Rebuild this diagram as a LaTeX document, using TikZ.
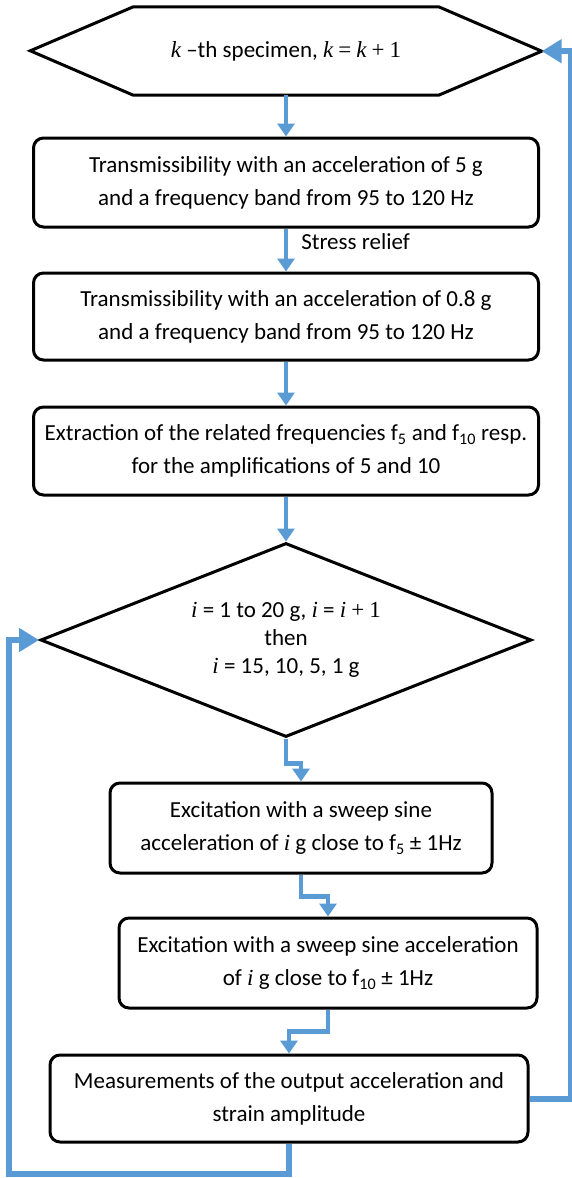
\documentclass[tikz,border=0pt]{standalone}
\usepackage{fontspec}
\setmainfont{Carlito}
\newfontfamily\mathserif{Liberation Serif}
\newcommand{\mv}[1]{{\mathserif\itshape #1}}
\newcommand{\mo}[1]{{\mathserif\hspace{0.22em}#1\hspace{0.22em}}}
\usetikzlibrary{shapes.geometric,arrows.meta}
\definecolor{flowblue}{RGB}{91,155,213}

\begin{document}
\begin{tikzpicture}[
		x=1pt, y=-1pt,
		font=\fontsize{23}{33}\selectfont,
		every node/.style={align=center, inner sep=0pt},
		box/.style={draw, line width=3pt, rounded corners=10pt},
		flow/.style={draw=flowblue, line width=4.5pt, -{Triangle[length=13pt,width=17pt]}},
		backflow/.style={draw=flowblue, line width=6pt, -{Triangle[length=20pt,width=23pt]}}
		]
		\useasboundingbox (0,0) rectangle (572,1178);
		\node (spec) [minimum width=305pt, minimum height=88pt] at (286,51) {\mv{k} –th specimen, \mv{k}\mo{=}\mv{k}\mo{+}{\mathserif 1}};
		\draw[line width=3pt] (spec.north west) -- ++(-103,44) -- (spec.south west) -- (spec.south east) -- ++(103,-44) coordinate (hexR) -- (spec.north east) -- cycle;
		\node (trans5) [box, minimum width=505pt, minimum height=89pt] at (286,182.5) {Transmissibility with an acceleration of 5 g\\and a frequency band from 95 to 120 Hz};
		\node (trans08) [box, minimum width=505pt, minimum height=87pt] at (286,316.5) {Transmissibility with an acceleration of 0.8 g\\and a frequency band from 95 to 120 Hz};
		\node (extract) [box, minimum width=505pt, minimum height=88pt] at (286,451) {Extraction of the related frequencies f\textsubscript{5} and f\textsubscript{10} resp.\\for the amplifications of 5 and 10};
		\node (accel) [draw, diamond, aspect=2.5, line width=3pt, minimum width=491pt, minimum height=194pt, font=\fontsize{23}{28}\selectfont] at (286,640) {\mv{i} = 1 to 20 g, \mv{i} = \mv{i}\mo{+}{\mathserif 1}\\then\\\mv{i} = 15, 10, 5, 1 g};
		\node (sweep5) [box, minimum width=382pt, minimum height=90pt] at (301,828) {Excitation with a sweep sine\\acceleration of \mv{i} g close to f\textsubscript{5} ± 1Hz};
		\node (sweep10) [box, minimum width=418pt, minimum height=90pt] at (328,963) {Excitation with a sweep sine acceleration\\of \mv{i} g close to f\textsubscript{10} ± 1Hz};
		\node (measure) [box, minimum width=478pt, minimum height=87pt] at (289,1098.5) {Measurements of the output acceleration and\\strain amplitude};

		\draw[flow] (spec.south) -- (trans5);
		\draw[flow] (trans5) -- node (relief) [right=13pt, pos=0.3] {Stress relief} (trans08);
		\draw[flow] (trans08) -- (extract);
		\draw[flow] (extract) -- (accel);
		\draw[flow] (accel.south) -- ++(0,25) -| (sweep5.north);
		\draw[flow] (sweep5.south) -- ++(0,22) -| (sweep10.north);
		\draw[flow] (sweep10.south) -- ++(0,22) -| (measure.north);
		\draw[backflow] (measure.east) -| ([xshift=29pt]hexR) -- (hexR);
		\draw[backflow] (measure.south) -- ++(0,30) -| ([xshift=-30pt]accel.west) -- (accel.west);
\end{tikzpicture}
\end{document}
